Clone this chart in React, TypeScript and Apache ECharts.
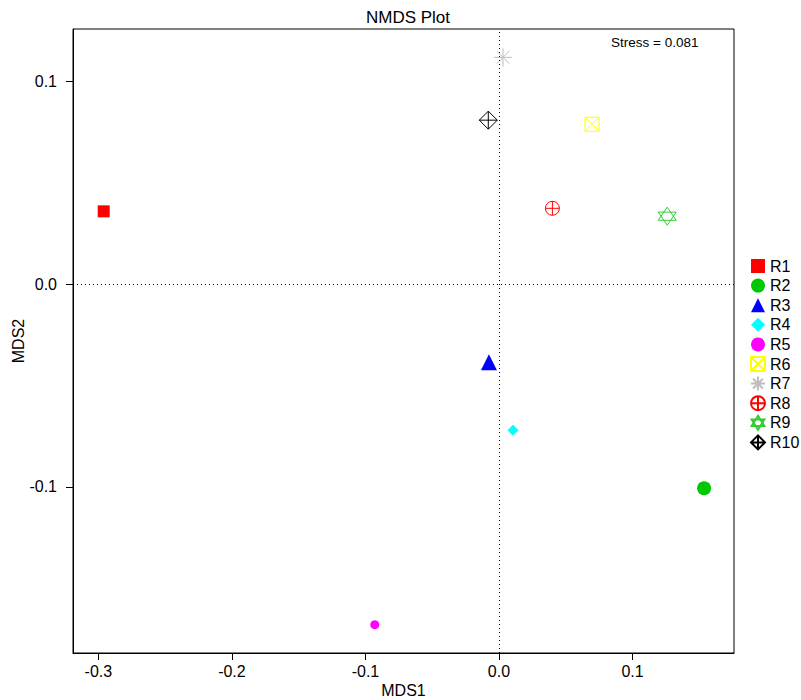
import React, { useEffect, useRef } from "react";
import * as echarts from "echarts";

const sampleNames = ["R1", "R2", "R3", "R4", "R5", "R6", "R7", "R8", "R9", "R10"];
const mds1 = [-0.296, 0.1536, -0.0075, 0.0105, -0.093, 0.0697, 0.003, 0.04, 0.126, -0.008];
const mds2 = [0.036, -0.1007, -0.0385, -0.072, -0.168, 0.079, 0.112, 0.0375, 0.0336, 0.081];
const colors = ["#FF0000", "#00C800", "#0000FF", "#00FFFF", "#FF00FF", "#FFFF00", "#BEBEBE", "#FF0000", "#33CC33", "#000000"];
const xTicks = [-0.3, -0.2, -0.1, 0, 0.1];
const yTicks = [-0.1, 0, 0.1];
const stressText = "Stress = 0.081";

const FONT = "'Liberation Sans', Arial, sans-serif";

const symbols = [
  "rect",
  "circle",
  "triangle",
  "diamond",
  "circle",
  "path://M0,0 L10,0 L10,10 L0,10 Z M0,0 L10,10 M10,0 L0,10",
  "path://M0,5 L10,5 M5,0 L5,10 M1.5,1.5 L8.5,8.5 M8.5,1.5 L1.5,8.5",
  "path://M0,5 A5,5 0 1,0 10,5 A5,5 0 1,0 0,5 Z M0,5 L10,5 M5,0 L5,10",
  "path://M5,0 L10,8 L0,8 Z M5,11 L10,3 L0,3 Z",
  "path://M5,0 L10,5 L5,10 L0,5 Z M0,5 L10,5 M5,0 L5,10",
];
const sizes = [12, 14, 16, 11, 9, 14, 18, 14, 18, 18];
const outline = [false, false, false, false, false, true, true, true, true, true];

export default function App() {
  const ref = useRef<HTMLDivElement>(null);
  useEffect(() => {
    if (!ref.current) return;
    const chart = echarts.init(ref.current, null, { renderer: "svg" });
    const series: any[] = sampleNames.map((name, i) => ({
      name,
      type: "scatter",
      data: [[mds1[i], mds2[i]]],
      symbol: symbols[i],
      symbolSize: sizes[i],
      itemStyle: outline[i]
        ? { color: "transparent", borderColor: colors[i], borderWidth: 1, opacity: 1 }
        : { color: colors[i], opacity: 1 },
      emphasis: { disabled: true },
    }));
    series[0].markLine = {
      silent: true,
      symbol: "none",
      label: { show: false },
      lineStyle: { color: "#000", type: [1, 3], width: 1 },
      data: [{ xAxis: 0 }, { yAxis: 0 }],
    };
    chart.setOption({
      animation: false,
      textStyle: { fontFamily: FONT },
      title: {
        text: "NMDS Plot",
        left: 403,
        textAlign: "center",
        top: 4,
        textStyle: { fontSize: 17, fontWeight: "normal", color: "#000", fontFamily: FONT },
      },
      grid: {
        left: 73,
        right: 67,
        top: 29,
        bottom: 47,
        outerBoundsMode: "none",
        containLabel: false,
        show: true,
        borderColor: "#000",
        borderWidth: 1,
        backgroundColor: "transparent",
      },
      xAxis: {
        type: "value",
        min: -0.319,
        max: 0.176,
        name: "MDS1",
        nameLocation: "middle",
        nameGap: 29,
        nameMoveOverlap: false,
        nameTextStyle: { fontSize: 16, color: "#000", fontFamily: FONT },
        axisLine: { show: true, onZero: false, lineStyle: { color: "#000" } },
        axisTick: { show: true, length: 7, customValues: xTicks, lineStyle: { color: "#000" } },
        axisLabel: {
          customValues: xTicks,
          fontSize: 16,
          color: "#000",
          margin: 10,
          fontFamily: FONT,
          formatter: (v: number) => v.toFixed(1),
        },
        splitLine: { show: false },
      },
      yAxis: {
        type: "value",
        min: -0.182,
        max: 0.126,
        name: "MDS2",
        nameLocation: "middle",
        nameGap: 47,
        nameMoveOverlap: false,
        nameRotate: 90,
        nameTextStyle: { fontSize: 16, color: "#000", fontFamily: FONT },
        axisLine: { show: true, onZero: false, lineStyle: { color: "#000" } },
        axisTick: { show: true, length: 7, customValues: yTicks, lineStyle: { color: "#000" } },
        axisLabel: {
          customValues: yTicks,
          fontSize: 16,
          color: "#000",
          margin: 16,
          fontFamily: FONT,
          formatter: (v: number) => v.toFixed(1),
        },
        splitLine: { show: false },
      },
      legend: {
        orient: "vertical",
        left: 750,
        top: 258,
        itemWidth: 14,
        itemHeight: 14,
        itemGap: 3.6,
        itemTextGap: 3,
        padding: 0,
        textStyle: { fontSize: 16, color: "#000", fontFamily: FONT, padding: [0, 0, 0, 0] },
        data: sampleNames,
      },
      graphic: [
        {
          type: "text",
          left: 611,
          top: 35,
          style: { text: stressText, fontSize: 13.5, fill: "#000", fontFamily: FONT },
        },
      ],
      series,
    });
    return () => chart.dispose();
  }, []);
  return <div ref={ref} style={{ width: 801, height: 700, position: "absolute", left: 0, top: 0 }} />;
}
